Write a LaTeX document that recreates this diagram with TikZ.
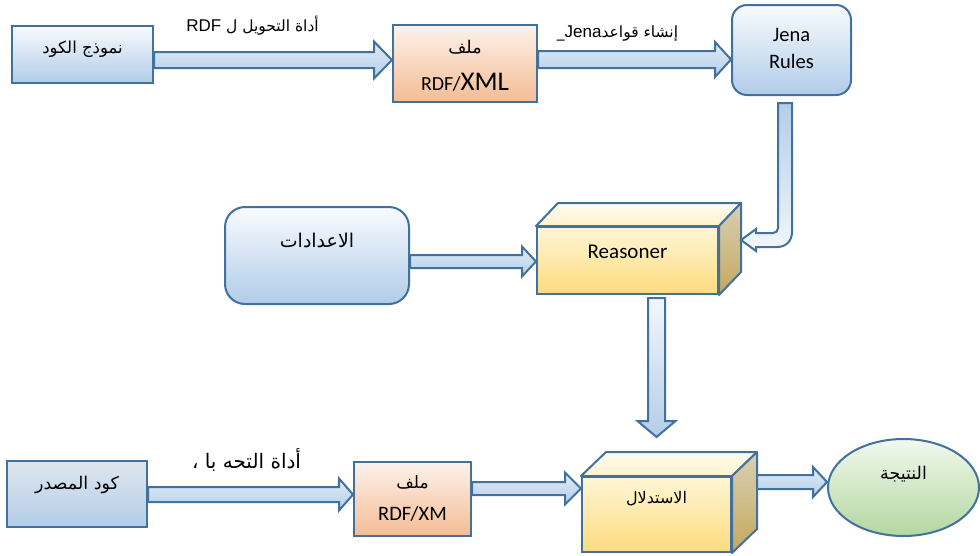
\documentclass[tikz,border=0pt]{standalone}
\usepackage{fontspec}
\setmainfont{Carlito}
\newfontfamily\arabicfont[Script=Arabic]{DejaVu Sans}
\newfontfamily\latfont{Liberation Sans}
\TeXXeTstate=1
\usetikzlibrary{shapes.geometric,calc}

\definecolor{bord}{HTML}{41719C}
\definecolor{arTop}{HTML}{E0ECF8}
\definecolor{arBot}{HTML}{B4CDE8}
\definecolor{arWhite}{HTML}{F2F7FC}
\definecolor{blTop}{HTML}{F8FBFE}
\definecolor{blBot}{HTML}{B1CCE8}
\definecolor{gbTop}{HTML}{DFE6ED}
\definecolor{gbBot}{HTML}{B2CDE9}
\definecolor{orTop}{HTML}{FDF2EB}
\definecolor{orBot}{HTML}{F4BC94}
\definecolor{yeTop}{HTML}{FFF6D6}
\definecolor{yeBot}{HTML}{FDDB7E}
\definecolor{ytTop}{HTML}{FFFCEF}
\definecolor{ytBot}{HTML}{FFF3CC}
\definecolor{ysTop}{HTML}{D8D0B4}
\definecolor{ysBot}{HTML}{C5A85D}
\definecolor{grTop}{HTML}{F2F8EE}
\definecolor{grBot}{HTML}{B3D7A1}

\newcommand\fs[1]{\fontsize{#1}{#1}\selectfont}
\newcommand\arf[1]{\arabicfont\fs{#1}}
\newcommand\txtat[2]{\makebox[0pt]{\raisebox{#1}[0pt][0pt]{#2}}}

\tikzset{
  edge/.style={draw=bord, line width=2pt},
  bluebox/.style={rectangle, edge, inner sep=0pt, top color=blTop, bottom color=blBot},
  greybluebox/.style={rectangle, edge, inner sep=0pt, top color=gbTop, bottom color=gbBot},
  orangebox/.style={rectangle, edge, inner sep=0pt, top color=orTop, bottom color=orBot},
  yfront/.style={rectangle, edge, inner sep=0pt, top color=yeTop, bottom color=yeBot},
  ytopface/.style={edge, line join=round, top color=ytTop, bottom color=ytBot},
  ysideface/.style={edge, line join=round, top color=ysTop, bottom color=ysBot},
  greenoval/.style={ellipse, edge, inner sep=0pt, top color=grTop, bottom color=grBot},
  barrow/.style={edge, line join=miter, top color=arTop, bottom color=arBot},
  barrowdown/.style={edge, line join=miter, top color=arWhite, bottom color=arBot},
  barrowbent/.style={edge, line join=miter, top color=arBot, bottom color=arWhite},
  freelabel/.style={anchor=base, inner sep=0pt},
}

% horizontal block arrow: start, tip, half body, half head, head length
\newcommand\harr[5]{%
  \path[barrow] let \p1=(#1), \p2=(#2) in
    (\x1,{\y1+#3pt}) -- ({\x2-#5pt},{\y1+#3pt}) -- ({\x2-#5pt},{\y1+#4pt}) -- (\x2,\y1)
    -- ({\x2-#5pt},{\y1-#4pt}) -- ({\x2-#5pt},{\y1-#3pt}) -- (\x1,{\y1-#3pt}) -- cycle;}
% vertical (downward) block arrow
\newcommand\varr[5]{%
  \path[barrowdown] let \p1=(#1), \p2=(#2) in
    ({\x1-#3pt},\y1) -- ({\x1-#3pt},{\y2+#5pt}) -- ({\x1-#4pt},{\y2+#5pt}) -- (\x1,\y2)
    -- ({\x1+#4pt},{\y2+#5pt}) -- ({\x1+#3pt},{\y2+#5pt}) -- ({\x1+#3pt},\y1) -- cycle;}

\begin{document}
\begin{tikzpicture}[x=1pt,y=-1pt]
\useasboundingbox (0,0) rectangle (980,555);

% ---------- row 1 ----------
\node[bluebox, minimum width=141pt, minimum height=57pt] (cm) at (82.5,54.5)
  {\txtat{1pt}{\arf{16.5}\beginR نموذج الكود\endR}};
\node[orangebox, minimum width=144pt, minimum height=77pt] (dx) at (465,63.5)
  {\txtat{10pt}{\arf{17.5}\beginR ملف\endR}\txtat{-27pt}{\fs{20}RDF/\fs{27}XML}};
\node[bluebox, rounded corners=15pt, minimum width=119pt, minimum height=90pt] (jr) at (791.5,50)
  {\txtat{9pt}{\fs{20.5}Jena}\txtat{-18pt}{\fs{20.5}Rules}};

\node[freelabel] (l1) at (252.5,31.5)
  {\arf{15.5}\beginR أداة التحويل ل \beginL{\latfont\fs{17}RDF}\endL\endR};
\node[freelabel] (l2) at (617.5,37.5)
  {\arf{15.5}\beginR إنشاء قواعد\beginL{\latfont\fs{17}Jena}\endL\_\endR};

\harr{cm.east |- 0,60}{dx.west |- 0,60}{8}{18.5}{18}
\harr{dx.east |- 0,59.5}{jr.west |- 0,59.5}{8.5}{17.5}{16}

% ---------- row 2 ----------
\node[bluebox, rounded corners=20pt, minimum width=184pt, minimum height=97pt] (st) at (317,255.5)
  {\txtat{8pt}{\arf{19}\beginR الاعدادات\endR}};
\node[yfront, minimum width=181pt, minimum height=67pt] (rs) at (627.5,260.5)
  {\txtat{2.5pt}{\fs{21}Reasoner}};
\path[ytopface] (rs.north west) -- ++(22,-23) -- ($(rs.north east)+(22,-23)$) -- (rs.north east) -- cycle;
\path[ysideface] (rs.north east) -- ++(22,-23) -- ($(rs.south east)+(22,-23)$) -- (rs.south east) -- cycle;

\harr{st.east |- 0,261.5}{rs.west |- 0,261.5}{6.5}{15}{14}

% bent arrow Jena Rules -> Reasoner
\path[barrowbent] let \p1=($(jr.south)+(-6.5,7)$), \p2=($(rs.east)+(22,-20.5)$) in
  ({\x1-7pt},\y1) -- ({\x1-7pt},{\y2+12pt})
  .. controls ({\x1-7pt},{\y2+9pt}) and ({\x1-9pt},{\y2+7pt}) .. ({\x1-12pt},{\y2+7pt})
  -- ({\x2+15pt},{\y2+7pt}) -- ({\x2+15pt},{\y2+11pt}) -- (\x2,\y2)
  -- ({\x2+15pt},{\y2-11pt}) -- ({\x2+15pt},{\y2-7pt}) -- ({\x1-8pt},{\y2-7pt})
  .. controls ({\x1+1pt},{\y2-7pt}) and ({\x1+7pt},{\y2-1pt}) .. ({\x1+7pt},{\y2+8pt})
  -- ({\x1+7pt},\y1) -- cycle;

% ---------- row 3 ----------
\node[greybluebox, minimum width=140pt, minimum height=66pt] (sc) at (77,494)
  {\txtat{4.5pt}{\arf{17.5}\beginR كود المصدر\endR}};
\node[orangebox, minimum width=117pt, minimum height=74pt] (fx) at (412.5,499)
  {\txtat{10.5pt}{\arf{17}\beginR ملف\endR}\txtat{-21pt}{\fs{20.5}RDF/XM}};
\node[yfront, minimum width=149pt, minimum height=75pt] (inf) at (656.5,514.5)
  {\txtat{11pt}{\arf{16}\beginR الاستدلال\endR}};
\path[ytopface] (inf.north west) -- ++(25,-24) -- ($(inf.north east)+(25,-24)$) -- (inf.north east) -- cycle;
\path[ysideface] (inf.north east) -- ++(25,-24) -- ($(inf.south east)+(25,-24)$) -- (inf.south east) -- cycle;
\node[greenoval, minimum width=151pt, minimum height=97pt] (res) at (903.5,487.5)
  {\txtat{8pt}{\arf{17.5}\beginR النتيجة\endR}};

\node[freelabel] (l3) at (246.5,468) {\arf{20}\beginR أداة التحه با ،\endR};

\harr{sc.east |- 0,494.5}{fx.west |- 0,494.5}{7.5}{16}{14}
\harr{fx.east |- 0,488.5}{inf.west |- 0,488.5}{6.5}{16}{16}
\harr{$(inf.east)+(25,-32.5)$}{res.west |- 0,482}{7}{15}{14}

% Reasoner -> inference
\varr{$(rs.south)+(29,3)$}{$(inf.north)+(0,-39)$}{8.5}{19}{16}
\end{tikzpicture}
\end{document}
